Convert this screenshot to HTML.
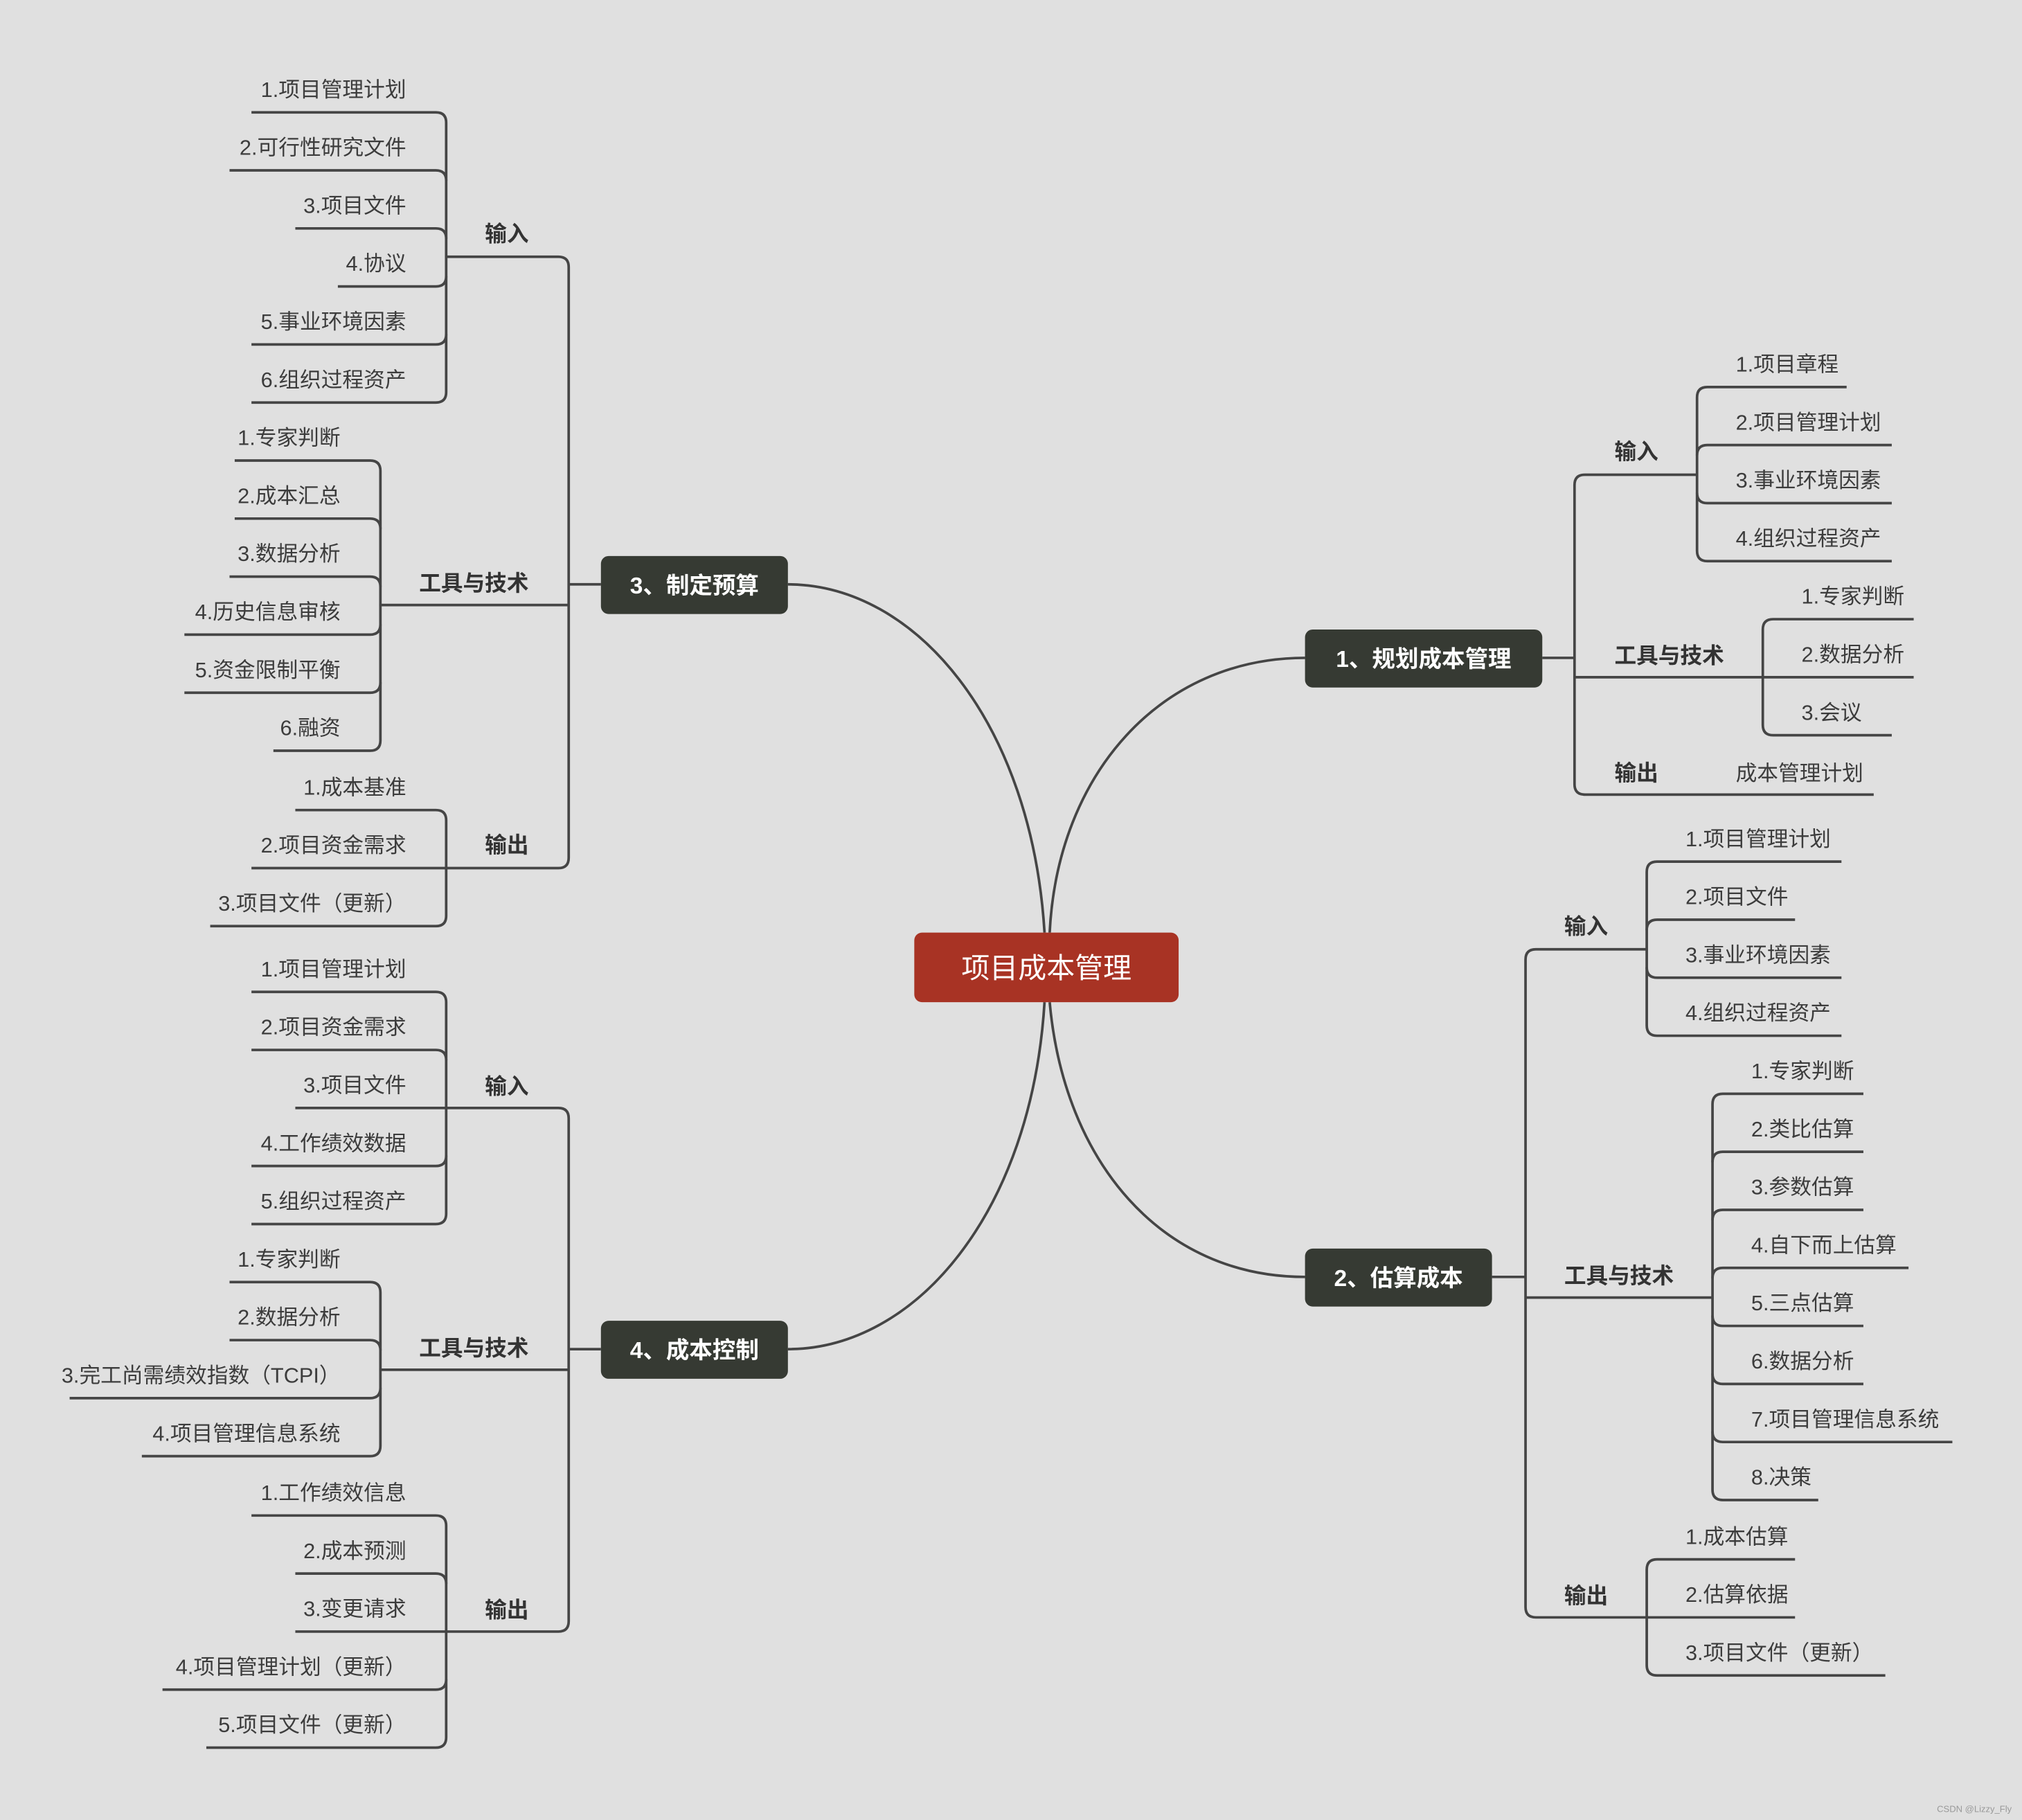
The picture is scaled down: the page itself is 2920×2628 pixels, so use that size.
<!DOCTYPE html>
<html><head><meta charset="utf-8"><style>
html,body{margin:0;padding:0;background:#e0e0e0;}
svg{display:block}
text{font-family:"Liberation Sans","Noto Sans CJK SC",sans-serif;}
.i{font-size:16.5px;fill:#3c3c3c}
.e{text-anchor:end}
.l{font-size:17px;font-weight:bold;fill:#333}
.n{font-size:18px;font-weight:bold;fill:#fff;text-anchor:middle}
path{fill:none;stroke:#454545;stroke-width:2}
</style></head><body>
<svg width="2920" height="2628" viewBox="0 0 1568 1411" xmlns="http://www.w3.org/2000/svg">
<rect width="1568" height="1411" fill="#e0e0e0"/>
<path d="M810,723 C800,560 710,453 611,453"/>
<path d="M814,723 C820,600 900,510 1012,510"/>
<path d="M810,777 C800,940 710,1046 611,1046"/>
<path d="M814,777 C825,900 900,990 1012,990"/>

<path d="M441,453 H466 M295,469 H441 M346,199 H433 Q441,199 441,207 V665 Q441,673 433,673 H346"/>
<path d="M195,87 H338 Q346,87 346,95 V304 Q346,312 338,312 H195"/>
<path d="M178,132 H338 Q346,132 346,140 M229,177 H338 Q346,177 346,185 M262,222 H338 Q346,222 346,214 M195,267 H338 Q346,267 346,259"/>
<text class="i e" x="315" y="75">1.项目管理计划</text>
<text class="i e" x="315" y="120">2.可行性研究文件</text>
<text class="i e" x="315" y="165">3.项目文件</text>
<text class="i e" x="315" y="210">4.协议</text>
<text class="i e" x="315" y="255">5.事业环境因素</text>
<text class="i e" x="315" y="300">6.组织过程资产</text>
<text class="l" x="376" y="187">输入</text>
<path d="M182,357 H287 Q295,357 295,365 V574 Q295,582 287,582 H212"/>
<path d="M182,402 H287 Q295,402 295,410 M178,447 H287 Q295,447 295,455 M143,492 H287 Q295,492 295,484 M143,537 H287 Q295,537 295,529"/>
<text class="i e" x="264" y="345">1.专家判断</text>
<text class="i e" x="264" y="390">2.成本汇总</text>
<text class="i e" x="264" y="435">3.数据分析</text>
<text class="i e" x="264" y="480">4.历史信息审核</text>
<text class="i e" x="264" y="525">5.资金限制平衡</text>
<text class="i e" x="264" y="570">6.融资</text>
<text class="l" x="325" y="458">工具与技术</text>
<path d="M229,628 H338 Q346,628 346,636 V710 Q346,718 338,718 H163 M195,673 H346"/>
<text class="i e" x="315" y="616">1.成本基准</text>
<text class="i e" x="315" y="661">2.项目资金需求</text>
<text class="i e" x="315" y="706">3.项目文件（更新）</text>
<text class="l" x="376" y="661">输出</text>
<rect x="466" y="431" width="145" height="45" rx="6" fill="#363a33"/>
<text class="n" x="538.5" y="460">3、制定预算</text>

<path d="M441,1046 H466 M295,1062 H441 M346,859 H433 Q441,859 441,867 V1257 Q441,1265 433,1265 H346"/>
<path d="M195,769 H338 Q346,769 346,777 V941 Q346,949 338,949 H195"/>
<path d="M195,814 H338 Q346,814 346,822 M229,859 H346 M195,904 H338 Q346,904 346,896"/>
<text class="i e" x="315" y="757">1.项目管理计划</text>
<text class="i e" x="315" y="802">2.项目资金需求</text>
<text class="i e" x="315" y="847">3.项目文件</text>
<text class="i e" x="315" y="892">4.工作绩效数据</text>
<text class="i e" x="315" y="937">5.组织过程资产</text>
<text class="l" x="376" y="848">输入</text>
<path d="M178,994 H287 Q295,994 295,1002 V1121 Q295,1129 287,1129 H110"/>
<path d="M178,1039 H287 Q295,1039 295,1047 M54,1084 H287 Q295,1084 295,1076"/>
<text class="i e" x="264" y="982">1.专家判断</text>
<text class="i e" x="264" y="1027">2.数据分析</text>
<text class="i e" x="264" y="1072">3.完工尚需绩效指数（TCPI）</text>
<text class="i e" x="264" y="1117">4.项目管理信息系统</text>
<text class="l" x="325" y="1051">工具与技术</text>
<path d="M195,1175 H338 Q346,1175 346,1183 V1347 Q346,1355 338,1355 H160"/>
<path d="M229,1220 H338 Q346,1220 346,1228 M229,1265 H346 M126,1310 H338 Q346,1310 346,1302"/>
<text class="i e" x="315" y="1163">1.工作绩效信息</text>
<text class="i e" x="315" y="1208">2.成本预测</text>
<text class="i e" x="315" y="1253">3.变更请求</text>
<text class="i e" x="315" y="1298">4.项目管理计划（更新）</text>
<text class="i e" x="315" y="1343">5.项目文件（更新）</text>
<text class="l" x="376" y="1254">输出</text>
<rect x="466" y="1024" width="145" height="45" rx="6" fill="#363a33"/>
<text class="n" x="538.5" y="1053">4、成本控制</text>

<path d="M1196,510 H1221 M1367,525 H1221 M1316,368 H1229 Q1221,368 1221,376 V608 Q1221,616 1229,616 H1453"/>
<path d="M1432,300 H1324 Q1316,300 1316,308 V427 Q1316,435 1324,435 H1467"/>
<path d="M1467,345 H1324 Q1316,345 1316,353 M1467,390 H1324 Q1316,390 1316,382"/>
<text class="i" x="1346" y="288">1.项目章程</text>
<text class="i" x="1346" y="333">2.项目管理计划</text>
<text class="i" x="1346" y="378">3.事业环境因素</text>
<text class="i" x="1346" y="423">4.组织过程资产</text>
<text class="l" x="1252" y="356">输入</text>
<path d="M1484,480 H1375 Q1367,480 1367,488 V562 Q1367,570 1375,570 H1467 M1484,525 H1367"/>
<text class="i" x="1397" y="468">1.专家判断</text>
<text class="i" x="1397" y="513">2.数据分析</text>
<text class="i" x="1397" y="558">3.会议</text>
<text class="l" x="1252" y="514">工具与技术</text>
<text class="l" x="1252" y="605">输出</text>
<text class="i" x="1346" y="605">成本管理计划</text>
<rect x="1012" y="488" width="184" height="45" rx="6" fill="#363a33"/>
<text class="n" x="1104" y="517">1、规划成本管理</text>

<path d="M1157,990 H1183 M1328,1006 H1183 M1277,736 H1191 Q1183,736 1183,744 V1246 Q1183,1254 1191,1254 H1277"/>
<path d="M1428,668 H1285 Q1277,668 1277,676 V795 Q1277,803 1285,803 H1428"/>
<path d="M1392,713 H1285 Q1277,713 1277,721 M1428,758 H1285 Q1277,758 1277,750"/>
<text class="i" x="1307" y="656">1.项目管理计划</text>
<text class="i" x="1307" y="701">2.项目文件</text>
<text class="i" x="1307" y="746">3.事业环境因素</text>
<text class="i" x="1307" y="791">4.组织过程资产</text>
<text class="l" x="1213" y="724">输入</text>
<path d="M1445,848 H1336 Q1328,848 1328,856 V1155 Q1328,1163 1336,1163 H1410"/>
<path d="M1445,893 H1336 Q1328,893 1328,901 M1445,938 H1336 Q1328,938 1328,946 M1480,983 H1336 Q1328,983 1328,991 M1445,1028 H1336 Q1328,1028 1328,1020 M1445,1073 H1336 Q1328,1073 1328,1065 M1514,1118 H1336 Q1328,1118 1328,1110"/>
<text class="i" x="1358" y="836">1.专家判断</text>
<text class="i" x="1358" y="881">2.类比估算</text>
<text class="i" x="1358" y="926">3.参数估算</text>
<text class="i" x="1358" y="971">4.自下而上估算</text>
<text class="i" x="1358" y="1016">5.三点估算</text>
<text class="i" x="1358" y="1061">6.数据分析</text>
<text class="i" x="1358" y="1106">7.项目管理信息系统</text>
<text class="i" x="1358" y="1151">8.决策</text>
<text class="l" x="1213" y="995">工具与技术</text>
<path d="M1392,1209 H1285 Q1277,1209 1277,1217 V1291 Q1277,1299 1285,1299 H1462 M1392,1254 H1277"/>
<text class="i" x="1307" y="1197">1.成本估算</text>
<text class="i" x="1307" y="1242">2.估算依据</text>
<text class="i" x="1307" y="1287">3.项目文件（更新）</text>
<text class="l" x="1213" y="1243">输出</text>
<rect x="1012" y="968" width="145" height="45" rx="6" fill="#363a33"/>
<text class="n" x="1084.5" y="997">2、估算成本</text>

<rect x="709" y="723" width="205" height="54" rx="6" fill="#a83324"/>
<text x="811.5" y="758" style="font-size:22px;fill:#fff;text-anchor:middle">项目成本管理</text>
<text x="1560" y="1405" style="font-size:7px;fill:#999;text-anchor:end">CSDN @Lizzy_Fly</text>
</svg>
</body></html>
